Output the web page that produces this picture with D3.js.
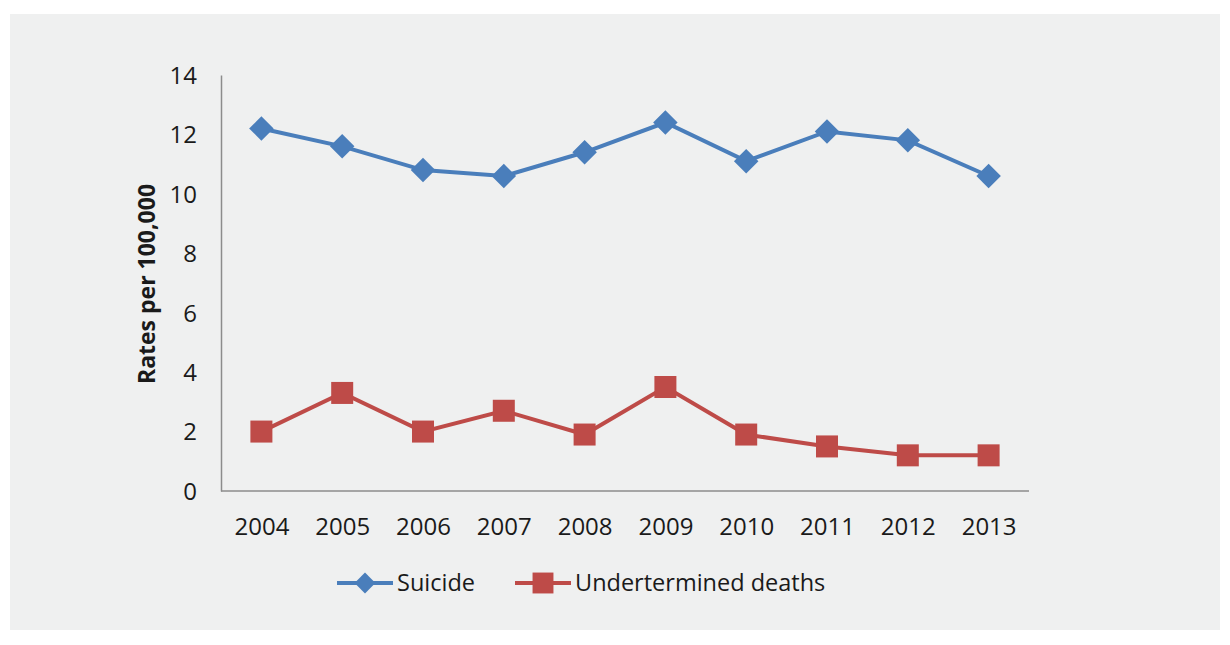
<!DOCTYPE html>
<html>
<head>
<meta charset="utf-8">
<script src="https://cdn.jsdelivr.net/npm/d3@7"></script>
<style>
  body { margin: 0; background: #fff; }
  svg text { font-family: "Open Sans", "Liberation Sans", sans-serif; fill: #1a1a1a; }
</style>
</head>
<body>
<div id="chart"></div>
<script>
// Data.
const years = ["2004", "2005", "2006", "2007", "2008", "2009", "2010", "2011", "2012", "2013"];
const suicide = [12.2, 11.6, 10.8, 10.6, 11.4, 12.4, 11.1, 12.1, 11.8, 10.6];
const undetermined = [2.0, 3.3, 2.0, 2.7, 1.9, 3.5, 1.9, 1.5, 1.2, 1.2];
const yTicks = [0, 2, 4, 6, 8, 10, 12, 14];
const seriesNames = ["Suicide", "Undertermined deaths"];
const colors = ["#4a7ebb", "#be4b48"];

const width = 1230, height = 645;
const svg = d3.select("#chart").append("svg")
  .attr("width", width)
  .attr("height", height);

// Background panel.
svg.append("rect")
  .attr("x", 10).attr("y", 14)
  .attr("width", 1210).attr("height", 616)
  .attr("fill", "#eff0f0");

// Scales.
const x = d3.scalePoint().domain(years).range([221, 1029]).padding(0.5);
const y = d3.scaleLinear().domain([0, 14]).range([491, 75]);

// Axes.
const yAxis = svg.append("g")
  .attr("transform", "translate(221,0)")
  .call(d3.axisLeft(y).tickValues(yTicks).tickSize(0).tickPadding(24));
yAxis.select(".domain").attr("stroke", "#8c8c8c").attr("stroke-width", 1.5);
yAxis.selectAll("text").style("font-size", "24px").attr("dy", "0.35em");

const xAxis = svg.append("g")
  .attr("transform", "translate(0,491)")
  .call(d3.axisBottom(x).tickSize(0).tickPadding(27).tickSizeOuter(0));
xAxis.select(".domain").attr("stroke", "#8c8c8c").attr("stroke-width", 1.5)
  .attr("d", "M221,0H1029");
xAxis.selectAll("text").style("font-size", "24px");

// Axis title.
svg.append("text")
  .attr("transform", "translate(147,284) rotate(-90)")
  .attr("text-anchor", "middle")
  .attr("dy", "0.35em")
  .style("font-size", "23px")
  .style("font-weight", "bold")
  .text("Rates per 100,000");

// Lines.
const data = [suicide, undetermined];
const lineGen = d3.line().x((d, i) => x(years[i])).y((d) => y(d));

svg.selectAll(".series")
  .data(data)
  .join("path")
  .attr("class", "series")
  .attr("d", (d) => lineGen(d))
  .attr("fill", "none")
  .attr("stroke", (d, i) => colors[i])
  .attr("stroke-width", 4);

const diamond = d3.symbol().type(d3.symbolSquare).size(300);
function drawMarker(g, k, cx, cy, scale) {
  if (k === 0) {
    g.append("path")
      .attr("d", diamond())
      .attr("transform", `translate(${cx},${cy}) rotate(45) scale(${scale})`)
      .attr("fill", colors[0]);
  } else {
    const s = 22 * scale;
    g.append("rect")
      .attr("x", cx - s / 2).attr("y", cy - s / 2)
      .attr("width", s).attr("height", s)
      .attr("fill", colors[1]);
  }
}

const markers = svg.append("g");
data.forEach((vals, k) => {
  vals.forEach((v, i) => drawMarker(markers, k, x(years[i]), y(v), 1));
});

// Legend.
const legend = svg.append("g");
const legendX = [337, 515];
seriesNames.forEach((name, k) => {
  const lx = legendX[k], ly = 583;
  legend.append("line")
    .attr("x1", lx).attr("x2", lx + 56)
    .attr("y1", ly).attr("y2", ly)
    .attr("stroke", colors[k]).attr("stroke-width", 4);
  drawMarker(legend, k, lx + 28, ly, k === 0 ? 0.85 : 0.95);
  legend.append("text")
    .attr("x", lx + 60).attr("y", ly)
    .attr("dy", "0.35em")
    .style("font-size", "23.5px")
    .text(name);
});
</script>
</body>
</html>
